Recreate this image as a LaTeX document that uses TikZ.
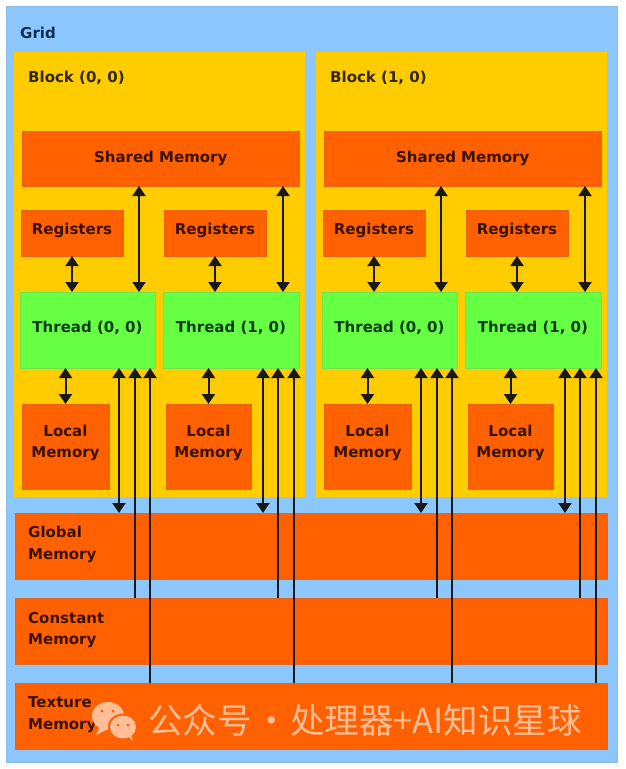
\documentclass[tikz,border=0pt]{standalone}
\usepackage{fontspec}
\setmainfont{DejaVu Sans}
\newfontfamily\cjk{Noto Sans CJK SC}
\usetikzlibrary{arrows.meta,calc}
\definecolor{gridblue}{HTML}{8CC8FF}
\definecolor{blockyellow}{HTML}{FFCC00}
\definecolor{memorange}{HTML}{FF6000}
\definecolor{threadgreen}{HTML}{66FF44}
\definecolor{inkorange}{HTML}{3A1200}
\definecolor{inkgreen}{HTML}{0B3B12}
\definecolor{inkyellow}{HTML}{332800}
\definecolor{inkblue}{HTML}{0F2F4F}
\definecolor{wmark}{HTML}{FFBE96}
\tikzset{
  x=1pt,y=-1pt,
  boxbase/.style={anchor=north west,inner sep=0pt,outer sep=0pt,align=center,line width=0.8pt},
  gridbox/.style={boxbase,fill=gridblue,draw=gridblue!80!gray},
  blockbox/.style={boxbase,fill=blockyellow,draw=blockyellow!85!gray},
  membox/.style={boxbase,fill=memorange,draw=memorange!80!gray,text=inkorange},
  threadbox/.style={boxbase,fill=threadgreen,draw=threadgreen!80!gray,text=inkgreen},
  lbl/.style={anchor=west,inner sep=0pt,align=left,font=\labelfont},
  dbl/.style={line width=2pt,draw=black!90,{Triangle[length=10pt,width=13pt]}-{Triangle[length=10pt,width=13pt]}},
  single/.style={line width=2pt,draw=black!90,-{Triangle[length=10pt,width=13pt]}},
}
\newcommand\labelfont{\bfseries\fontsize{15}{21.5}\selectfont}
\newcommand\mybox[7]{\node[#2,minimum width={((#5)-(#3))*1pt},minimum height={((#6)-(#4))*1pt},font=\labelfont] (#1) at (#3,#4) {#7};}
\newcommand\up[2]{\raisebox{#1pt}{#2}}
\newcommand\blockparts[3]{% suffix, dx, label
  \pgfmathsetmacro\dx{#2}
  \mybox{block#1}{blockbox}{13.5+\dx}{51}{305+\dx}{497}{}
  \node[lbl,text=inkyellow] (blocklbl#1) at (28+\dx,78) {#3};
  \mybox{shared#1}{membox}{22+\dx}{131}{299.5+\dx}{186}{\up{3}{Shared Memory}}
  \mybox{regA#1}{membox}{21+\dx}{210}{123+\dx}{256}{\up{9}{Registers}}
  \mybox{regB#1}{membox}{164+\dx}{210}{266+\dx}{256}{\up{9}{Registers}}
  \mybox{thrA#1}{threadbox}{20+\dx}{292}{155+\dx}{368}{\up{6}{Thread (0, 0)}}
  \mybox{thrB#1}{threadbox}{163+\dx}{292}{299+\dx}{368}{\up{6}{Thread (1, 0)}}
  \mybox{locA#1}{membox}{22+\dx}{404}{109+\dx}{489}{\up{14}{\begin{tabular}[b]{@{}c@{}}Local\\Memory\end{tabular}}}
  \mybox{locB#1}{membox}{166+\dx}{404}{251+\dx}{489}{\up{14}{\begin{tabular}[b]{@{}c@{}}Local\\Memory\end{tabular}}}
}
\newcommand\blockarrows[1]{%
  \draw[dbl] (regA#1.south) -- (regA#1.south |- thrA#1.north);
  \draw[dbl] (regB#1.south) -- (regB#1.south |- thrB#1.north);
  \draw[dbl] ([xshift=119pt]thrA#1.north west) -- ([xshift=119pt]thrA#1.north west |- shared#1.south);
  \draw[dbl] ([xshift=120pt]thrB#1.north west) -- ([xshift=120pt]thrB#1.north west |- shared#1.south);
  \draw[dbl] (locA#1.north) -- (locA#1.north |- thrA#1.south);
  \draw[dbl] (locB#1.north) -- (locB#1.north |- thrB#1.south);
  \draw[dbl] ([xshift=99pt]thrA#1.south west) -- ([xshift=99pt]thrA#1.south west |- global.north);
  \draw[dbl] ([xshift=100pt]thrB#1.south west) -- ([xshift=100pt]thrB#1.south west |- global.north);
  \draw[single] ([xshift=115pt]thrA#1.south west |- constant.north) -- ([xshift=115pt]thrA#1.south west);
  \draw[single] ([xshift=115pt]thrB#1.south west |- constant.north) -- ([xshift=115pt]thrB#1.south west);
  \draw[single] ([xshift=130pt]thrA#1.south west |- texture.north) -- ([xshift=130pt]thrA#1.south west);
  \draw[single] ([xshift=131pt]thrB#1.south west |- texture.north) -- ([xshift=131pt]thrB#1.south west);
}
\begin{document}
\begin{tikzpicture}
\path[use as bounding box,fill=white] (0,0) rectangle (625,769);
\mybox{grid}{gridbox}{6}{6}{617}{762}{}
\node[lbl,text=inkblue] (gridlbl) at (20,33) {Grid};
\blockparts{0}{0}{Block (0, 0)}
\blockparts{1}{302}{Block (1, 0)}
\mybox{global}{membox}{15}{513}{607}{579}{}
\mybox{constant}{membox}{15}{598}{607}{664}{}
\mybox{texture}{membox}{15}{683}{607}{749}{}
\node[lbl,text=inkorange] (globallbl) at (28,544.5) {Global\\Memory};
\node[lbl,text=inkorange] (constantlbl) at (28,630) {Constant\\Memory};
\node[lbl,text=inkorange] (texturelbl) at (28,714.5) {Texture\\Memory};
\blockarrows{0}
\blockarrows{1}
% watermark
\fill[wmark] (108,716) ellipse [x radius=16,y radius=14];
\fill[wmark] (108,716) ++(-8,10) -- ++(-4,9) -- ++(12,-6) -- cycle;
\fill[memorange] (123,727) ellipse [x radius=15,y radius=13.5];
\fill[wmark] (123,727) ellipse [x radius=13,y radius=11.5];
\fill[wmark] (127,735) -- (133,741) -- (131,733) -- cycle;
\fill[memorange] (102,711) circle (1.7) (113,711) circle (1.7) (118,725) circle (1.5) (128,725) circle (1.5);
\node[anchor=west,inner sep=0pt,text=wmark,font=\cjk\fontsize{34.5}{38}\selectfont] (wm) at (148,720) {公众号\hspace{3pt}·\hspace{1pt}处理器+AI知识星球};
\end{tikzpicture}
\end{document}
